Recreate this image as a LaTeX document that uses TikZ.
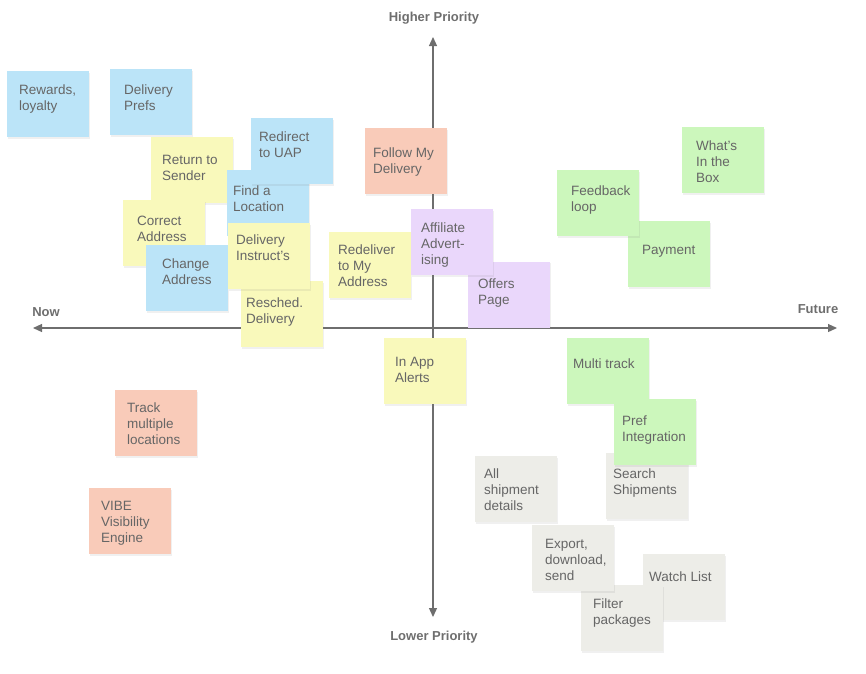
\documentclass[tikz,border=0pt]{standalone}
\usepackage{fontspec}
\setmainfont{Liberation Sans}
\usetikzlibrary{arrows.meta,shadows}
\definecolor{noteblue}{HTML}{BBE4F8}
\definecolor{noteyellow}{HTML}{F9F9BB}
\definecolor{notesalmon}{HTML}{F9CBB9}
\definecolor{notepurple}{HTML}{EAD7FB}
\definecolor{notegreen}{HTML}{CCF7BC}
\definecolor{notegray}{HTML}{EDEDE8}
\definecolor{textgray}{HTML}{666666}
\definecolor{axisgray}{HTML}{6E6E6E}

\begin{document}
\begin{tikzpicture}[x=1pt,y=-1pt,
  note/.style={rectangle,minimum width=82pt,minimum height=66pt,inner sep=0pt,
    drop shadow={opacity=0.12,shadow xshift=0.6pt,shadow yshift=-1.5pt}},
  bluenote/.style={note,fill=noteblue},
  yellownote/.style={note,fill=noteyellow},
  salmonnote/.style={note,fill=notesalmon},
  purplenote/.style={note,fill=notepurple},
  greennote/.style={note,fill=notegreen},
  graynote/.style={note,fill=notegray},
  notetext/.style={anchor=north west,align=left,inner sep=0pt,text=textgray,
    yshift=-1pt,font=\fontsize{13.5}{16}\selectfont},
  axis/.style={draw=axisgray,line width=1.2pt,
    {Triangle[length=9pt,width=8pt]}-{Triangle[length=9pt,width=8pt]}},
  axislabel/.style={text=axisgray,inner sep=0pt,font=\bfseries\fontsize{13}{15}\selectfont}]
\useasboundingbox (0,0) rectangle (866,673);
%Axes
\coordinate (now) at (33,328);
\coordinate (future) at (837,328);
\coordinate (high) at (433,37);
\coordinate (low) at (433,617);
\draw[axis] (now) -- (future);
\draw[axis] (high) -- (low);
\node at (46,312)[axislabel] (nowl) {Now};
\node at (818,309)[axislabel] (futurel) {Future};
\node at (434,18)[axislabel] (highl) {Higher Priority};
\node at (434,637)[axislabel] (lowl) {Lower Priority};
%Now, higher priority
\node at (48,104)[bluenote] (rewards) {};
\node at (19,82)[notetext] (rewardst) {\strut Rewards,\\loyalty};
\node at (151,102)[bluenote] (prefs) {};
\node at (124,82)[notetext] (prefst) {\strut Delivery\\Prefs};
\node at (192,170)[yellownote] (return) {};
\node at (162,152)[notetext] (returnt) {\strut Return to\\Sender};
\node at (268,203)[bluenote] (find) {};
\node at (233,183)[notetext] (findt) {\strut Find a\\Location};
\node at (292,151)[bluenote] (redirect) {};
\node at (259,129)[notetext] (redirectt) {\strut Redirect\\to UAP};
\node at (164,233)[yellownote] (correct) {};
\node at (137,213)[notetext] (correctt) {\strut Correct\\Address};
\node at (187,278)[bluenote] (change) {};
\node at (162,256)[notetext] (changet) {\strut Change\\Address};
\node at (282,314)[yellownote] (resched) {};
\node at (246,295)[notetext] (reschedt) {\strut Resched.\\Delivery};
\node at (269,256)[yellownote] (instruct) {};
\node at (236,232)[notetext] (instructt) {\strut Delivery\\Instruct’s};
\node at (406,161)[salmonnote] (follow) {};
\node at (373,145)[notetext] (followt) {\strut Follow My\\Delivery};
\node at (370,265)[yellownote] (redeliver) {};
\node at (338,242)[notetext] (redelivert) {\strut Redeliver\\to My\\Address};
%Future, higher priority
\node at (509,294.5)[purplenote] (offers) {};
\node at (478,276)[notetext] (offerst) {\strut Offers\\Page};
\node at (452,242)[purplenote] (affiliate) {};
\node at (421,220)[notetext] (affiliatet) {\strut Affiliate\\Advert-\\ising};
\node at (723,160)[greennote] (box) {};
\node at (696,138)[notetext] (boxt) {\strut What’s\\In the\\Box};
\node at (669,254)[greennote] (payment) {};
\node at (642,242)[notetext] (paymentt) {\strut Payment};
\node at (598,203)[greennote] (feedback) {};
\node at (571,183)[notetext] (feedbackt) {\strut Feedback\\loop};
%Now, lower priority
\node at (425,371)[yellownote] (alerts) {};
\node at (395,354)[notetext] (alertst) {\strut In App\\Alerts};
\node at (156,423)[salmonnote] (track) {};
\node at (127,400)[notetext] (trackt) {\strut Track\\multiple\\locations};
\node at (130,521)[salmonnote] (vibe) {};
\node at (101,498)[notetext] (vibet) {\strut VIBE\\Visibility\\Engine};
%Future, lower priority
\node at (608,371)[greennote] (multi) {};
\node at (573,356)[notetext] (multit) {\strut Multi track};
\node at (647,486)[graynote] (search) {};
\node at (613,466)[notetext] (searcht) {\strut Search\\Shipments};
\node at (655,432)[greennote] (pref) {};
\node at (622,413)[notetext] (preft) {\strut Pref\\Integration};
\node at (516,489)[graynote] (details) {};
\node at (484,466)[notetext] (detailst) {\strut All\\shipment\\details};
\node at (684,587)[graynote] (watch) {};
\node at (649,569)[notetext] (watcht) {\strut Watch List};
\node at (622,618)[graynote] (filter) {};
\node at (593,596)[notetext] (filtert) {\strut Filter\\packages};
\node at (573,558)[graynote] (export) {};
\node at (545,536)[notetext] (exportt) {\strut Export,\\download,\\send};
\end{tikzpicture}
\end{document}
